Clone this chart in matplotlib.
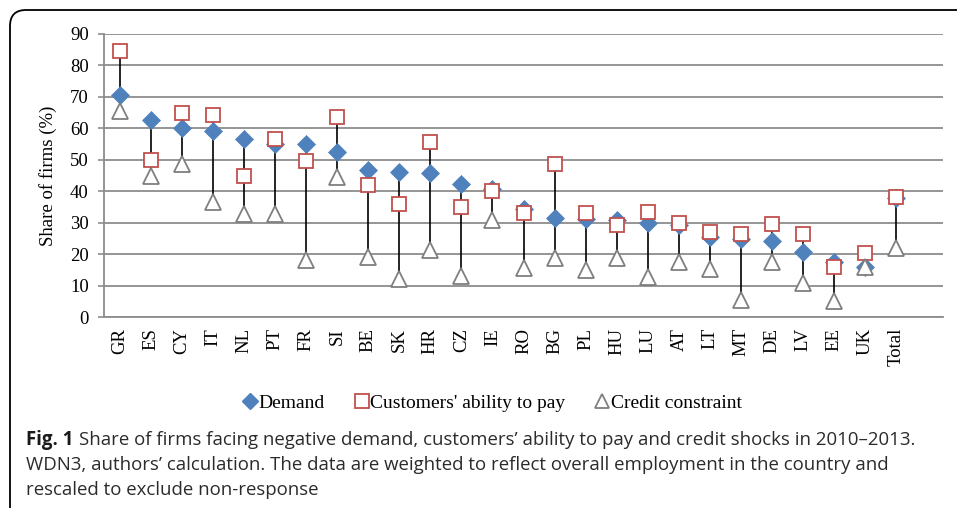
import numpy as np
import matplotlib
matplotlib.use("Agg")
import matplotlib.pyplot as plt
from matplotlib.patches import FancyBboxPatch
from matplotlib.lines import Line2D
from matplotlib.transforms import IdentityTransform

countries = ["GR", "ES", "CY", "IT", "NL", "PT", "FR", "SI", "BE", "SK", "HR", "CZ", "IE",
             "RO", "BG", "PL", "HU", "LU", "AT", "LT", "MT", "DE", "LV", "EE", "UK", "Total"]
demand = [70.7, 62.7, 60.0, 59.3, 56.7, 55.1, 55.1, 52.5, 46.8, 46.1, 45.9, 42.3, 40.8,
          34.4, 31.4, 31.1, 30.7, 29.8, 29.3, 25.6, 24.7, 24.2, 20.8, 17.4, 16.0, 37.7]
customers = [84.7, 49.8, 64.8, 64.1, 44.7, 56.7, 49.5, 63.6, 42.0, 35.8, 55.5, 35.0, 40.0,
             33.0, 48.6, 33.2, 29.3, 33.3, 29.9, 27.1, 26.3, 29.6, 26.5, 15.8, 20.5, 38.1]
credit = [65.6, 44.7, 48.6, 36.6, 32.9, 32.9, 18.0, 44.4, 19.2, 12.2, 21.2, 13.0, 30.7,
          15.7, 18.9, 14.8, 18.9, 12.6, 17.6, 15.4, 5.3, 17.4, 10.8, 5.0, 15.9, 22.1]
yticks = list(range(0, 100, 10))

W, H = 957, 508
fig = plt.figure(figsize=(W / 100, H / 100), dpi=100)
fig.patch.set_facecolor("white")

# rounded frame (left & top visible)
frame = FancyBboxPatch((10, -40), 1100, H - 10 + 40, boxstyle="round,pad=0,rounding_size=16",
                       transform=IdentityTransform(), fill=False, edgecolor="black", lw=1.3)
fig.add_artist(frame)

ax = fig.add_axes([104 / W, 1 - 317 / H, (943 - 104) / W, (317 - 34) / H])
serif = "Liberation Serif"
grid_c = "#8c8c8c"

x = np.arange(len(countries))
lo = np.minimum(np.minimum(demand, customers), credit)
hi = np.maximum(np.maximum(demand, customers), credit)
ax.vlines(x, lo, hi, color="black", lw=1.2, zorder=2)
ax.plot(x, demand, linestyle="none", marker="D", ms=9.5, mfc="#4F81BD", mec="#4F81BD",
        mew=0.5, zorder=3)
ax.plot(x, customers, linestyle="none", marker="s", ms=10.5, mfc="white", mec="#C0504D",
        mew=1.3, zorder=4)
ax.plot(x, credit, linestyle="none", marker="^", ms=11, mfc="white", mec="#7F7F7F",
        mew=1.3, zorder=5)

ax.set_xlim(-0.5, len(countries) + 0.5)
ax.set_ylim(0, 90)
ax.set_yticks(yticks)
ax.set_yticklabels([str(v) for v in yticks], family=serif, fontsize=13.5)
ax.set_xticks(x)
ax.set_xticklabels(countries, rotation=90, family=serif, fontsize=13.5, va="top")
ax.tick_params(axis="x", length=0, pad=8)
ax.tick_params(axis="y", length=4, width=1.2, color=grid_c, pad=7)
ax.yaxis.grid(True, color=grid_c, lw=1.3)
ax.set_axisbelow(True)
for s in ["top", "right"]:
    ax.spines[s].set_visible(False)
for s in ["left", "bottom"]:
    ax.spines[s].set_color(grid_c)
    ax.spines[s].set_linewidth(1.3)
ax.set_ylabel("Share of firms (%)", family=serif, fontsize=13.5, labelpad=9)

handles = [
    Line2D([], [], linestyle="none", marker="D", ms=8, mfc="#4F81BD", mec="#4F81BD"),
    Line2D([], [], linestyle="none", marker="s", ms=10, mfc="white", mec="#C0504D", mew=1.3),
    Line2D([], [], linestyle="none", marker="^", ms=10, mfc="white", mec="#7F7F7F", mew=1.3),
]
fig.legend(handles, ["Demand", "Customers' ability to pay", "Credit constraint"],
           loc="center", bbox_to_anchor=(493 / W, 1 - 403 / H), ncol=3, frameon=False,
           prop={"family": serif, "size": 14}, handlelength=0.6, handletextpad=0.15,
           columnspacing=1.6)

# caption
cap_font = "Open Sans"
cap_size = 13.4
cap_color = "#2b2b2b"
fig.canvas.draw()
r = fig.canvas.get_renderer()
t1 = fig.text(26 / W, 1 - 440 / H, "Fig. 1", family=cap_font, weight="bold", fontsize=cap_size,
              color="#1a1a1a", va="center")
bb = t1.get_window_extent(renderer=r)
fig.text((bb.x1 + 6) / W, 1 - 440 / H,
         "Share of firms facing negative demand, customers\u2019 ability to pay and credit shocks in 2010\u20132013.",
         family=cap_font, fontsize=cap_size, color=cap_color, va="center")
fig.text(26 / W, 1 - 465 / H,
         "WDN3, authors\u2019 calculation. The data are weighted to reflect overall employment in the country and",
         family=cap_font, fontsize=cap_size, color=cap_color, va="center")
fig.text(26 / W, 1 - 490 / H, "rescaled to exclude non-response",
         family=cap_font, fontsize=cap_size, color=cap_color, va="center")

fig.savefig("out.png", dpi=100)
